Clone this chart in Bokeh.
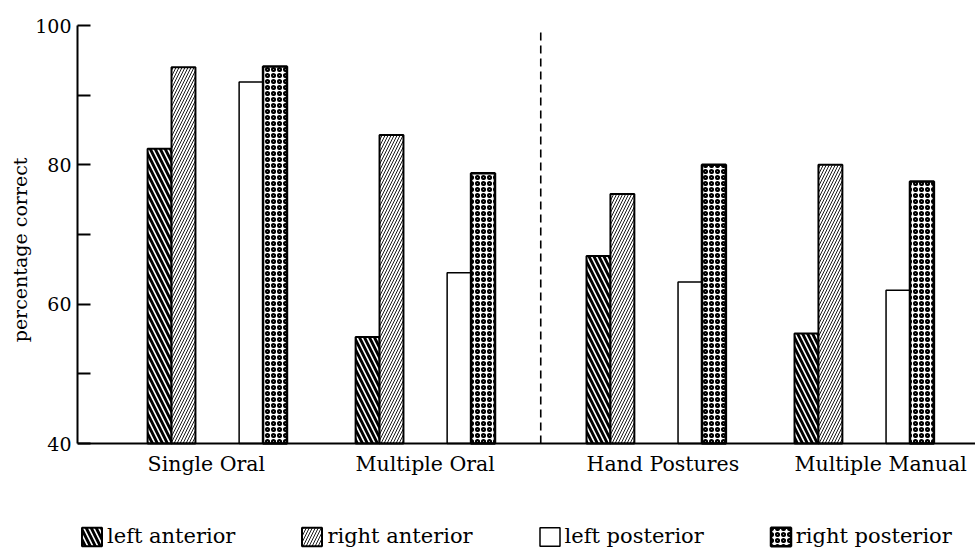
from bokeh.plotting import figure
from bokeh.models import (ColumnDataSource, Range1d, FixedTicker, Legend, LegendItem, Span, Title)
from bokeh.core.properties import value
from bokeh.embed import file_html
from bokeh.resources import INLINE

# ---- data ----
groups = ["Single Oral", "Multiple Oral", "Hand Postures", "Multiple Manual"]
series = ["left anterior", "right anterior", "left posterior", "right posterior"]
left_anterior = [82.3, 55.3, 66.9, 55.8]
right_anterior = [94.0, 84.3, 75.8, 80.0]
left_posterior = [91.9, 64.5, 63.2, 62.0]
right_posterior = [94.1, 78.8, 80.0, 77.6]
y_ticks = [40, 50, 60, 70, 80, 90, 100]
y_labelled = [40, 60, 80, 100]
y_title = "percentage correct"

# ---- layout constants (style) ----
FONT = "DejaVu Serif"
BAR_W = 0.115
OFFSETS = [0.0, 0.115, 0.44, 0.555]
DIVIDER_GAP = 0.11
BASE = 40
TOP = 100

group_start = [i + (DIVIDER_GAP if i >= 2 else 0) for i in range(len(groups))]

p = figure(width=975, height=549, output_backend="svg", toolbar_location=None,
           x_range=Range1d(-0.337, 3.98), y_range=Range1d(24.79, TOP),
           min_border_left=77, min_border_right=0, min_border_top=25,
           min_border_bottom=0)
p.outline_line_color = None
p.grid.grid_line_color = None
p.background_fill_color = "white"
p.border_fill_color = "white"
p.xaxis.visible = False

styles = [
    dict(fill_color="black", hatch_pattern="\\", hatch_color="white", hatch_weight=1.6, hatch_scale=10,
         line_color="black", line_width=2),
    dict(fill_color="white", hatch_pattern="/", hatch_color="black", hatch_weight=0.9, hatch_scale=6,
         line_color="black", line_width=2),
    dict(fill_color="white", line_color="black", line_width=1.5),
    dict(fill_color="white", hatch_pattern="o", hatch_color="black", hatch_weight=2.1, hatch_scale=6,
         line_color="black", line_width=2.5),
]

values = [left_anterior, right_anterior, left_posterior, right_posterior]
items = []
for k, (name, vals) in enumerate(zip(series, values)):
    xs = [g + OFFSETS[k] + BAR_W / 2 for g in group_start]
    src = ColumnDataSource(dict(x=xs, top=vals))
    r = p.vbar(x="x", top="top", bottom=BASE, width=BAR_W, source=src, **styles[k])
    items.append(LegendItem(label=name, renderers=[r]))

# baseline (x axis line)
p.add_layout(Span(location=BASE, dimension="width", line_color="black", line_width=2))

# category labels, left-aligned under each group's first bar
p.text(x=group_start, y=[BASE] * len(groups), text=groups, y_offset=8,
       text_align="left", text_baseline="top", text_color="black",
       text_font=value(FONT), text_font_size="20.5px")

# dashed divider between oral and manual conditions
div_x = (group_start[1] + OFFSETS[3] + BAR_W + group_start[2]) / 2
p.segment(x0=[div_x], y0=[BASE], x1=[div_x], y1=[99], line_color="black",
          line_width=1.6, line_dash="8 5")

# y axis
p.yaxis.bounds = (BASE, TOP)
p.yaxis.ticker = FixedTicker(ticks=y_ticks)
p.yaxis.major_label_overrides = {t: (str(t) if t in y_labelled else "") for t in y_ticks}
p.yaxis.major_tick_in = 13
p.yaxis.major_tick_out = 0
p.yaxis.minor_tick_line_color = None
p.yaxis.axis_line_width = 2
p.yaxis.major_tick_line_width = 2
p.yaxis.major_label_text_font = FONT
p.yaxis.major_label_text_font_size = "19px"
p.yaxis.major_label_text_color = "black"
p.yaxis.major_label_standoff = 6

# y-axis title, centred on the 40-100 span of the axis
ytitle = Title(text=y_title, align="right", offset=132, standoff=2,
               text_font=FONT, text_font_size="19px", text_font_style="normal",
               text_color="black", vertical_align="middle")
p.add_layout(ytitle, "left")

legend = Legend(items=items, orientation="horizontal", location=(2, 1),
                glyph_width=25, glyph_height=23, label_standoff=3, spacing=64,
                padding=0, margin=0, border_line_color=None, background_fill_alpha=0)
legend.label_text_font = "'DejaVu Serif', serif"
legend.label_text_font_size = "21px"
legend.label_text_color = "black"
p.add_layout(legend, "center")

open("out.html", "w").write(file_html(p, INLINE))
